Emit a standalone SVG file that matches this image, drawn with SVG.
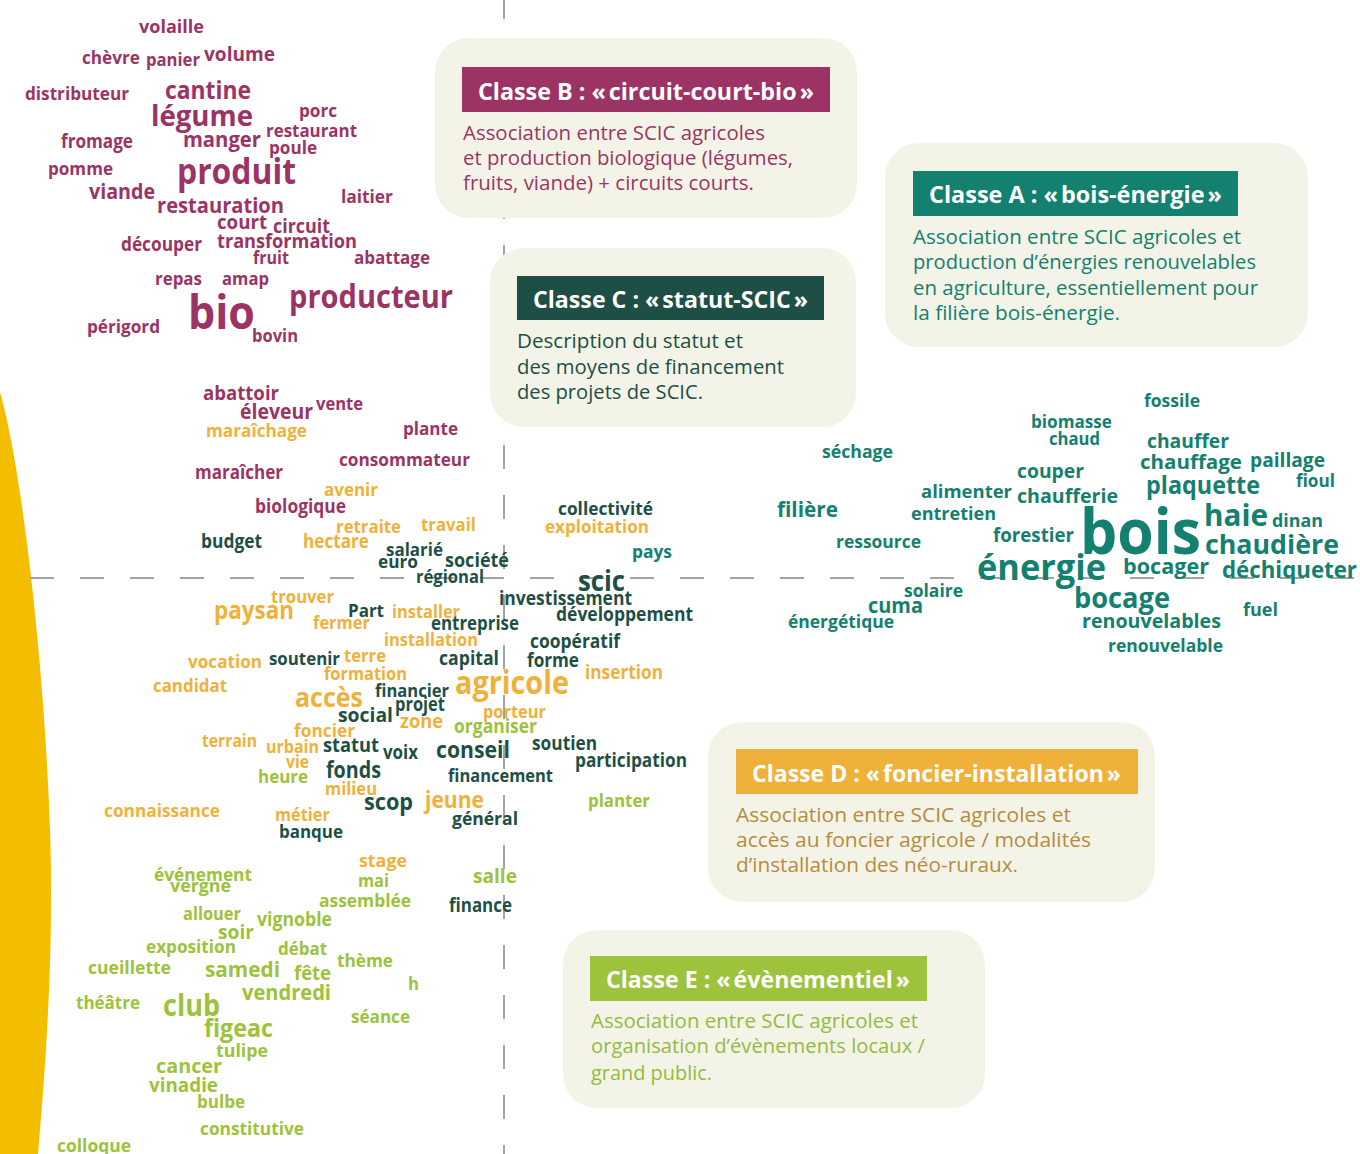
<svg xmlns="http://www.w3.org/2000/svg" width="1360" height="1154" viewBox="0 0 1360 1154">
<style>
text{font-family:"Open Sans","Noto Sans","DejaVu Sans",sans-serif}
.w{font-weight:700}
.p{fill:#9b3465}.o{fill:#f0b13b}.d{fill:#1d4f46}.l{fill:#9dc23c}.t{fill:#14806f}
.box{fill:#f3f4e7}
.hd{font-weight:700;font-size:23px;fill:#ffffff}
.bd{font-weight:400;font-size:20px}
.axis{stroke:#a3a3a3;stroke-width:2;fill:none;stroke-dasharray:24 26}
</style>
<rect width="1360" height="1154" fill="#ffffff"/>
<path d="M0,392 C22,470 44,660 50,830 C54,950 46,1060 38,1154 L0,1154 Z" fill="#f4be00"/>
<g id="connectors">
<line class="axis" x1="504" y1="-5" x2="504" y2="1154"/>
<line class="axis" x1="30" y1="578" x2="1360" y2="578"/>
</g>
<g id="words-B" class="w p">
<text x="139" y="33" font-size="18" textLength="65" lengthAdjust="spacingAndGlyphs">volaille</text>
<text x="82" y="64" font-size="18" textLength="58" lengthAdjust="spacingAndGlyphs">chèvre</text>
<text x="146" y="66" font-size="18" textLength="54" lengthAdjust="spacingAndGlyphs">panier</text>
<text x="204" y="61" font-size="20" textLength="71" lengthAdjust="spacingAndGlyphs">volume</text>
<text x="25" y="100" font-size="18" textLength="104" lengthAdjust="spacingAndGlyphs">distributeur</text>
<text x="165" y="99" font-size="25" textLength="86" lengthAdjust="spacingAndGlyphs">cantine</text>
<text x="151" y="126" font-size="29" textLength="102" lengthAdjust="spacingAndGlyphs">légume</text>
<text x="299" y="117" font-size="18" textLength="38" lengthAdjust="spacingAndGlyphs">porc</text>
<text x="266" y="137" font-size="18" textLength="91" lengthAdjust="spacingAndGlyphs">restaurant</text>
<text x="183" y="147" font-size="22" textLength="78" lengthAdjust="spacingAndGlyphs">manger</text>
<text x="269" y="154" font-size="18" textLength="48" lengthAdjust="spacingAndGlyphs">poule</text>
<text x="61" y="148" font-size="19" textLength="72" lengthAdjust="spacingAndGlyphs">fromage</text>
<text x="48" y="175" font-size="18" textLength="65" lengthAdjust="spacingAndGlyphs">pomme</text>
<text x="177" y="184" font-size="35" textLength="119" lengthAdjust="spacingAndGlyphs">produit</text>
<text x="89" y="199" font-size="21" textLength="66" lengthAdjust="spacingAndGlyphs">viande</text>
<text x="341" y="203" font-size="18" textLength="52" lengthAdjust="spacingAndGlyphs">laitier</text>
<text x="157" y="213" font-size="22" textLength="127" lengthAdjust="spacingAndGlyphs">restauration</text>
<text x="217" y="229" font-size="20" textLength="50" lengthAdjust="spacingAndGlyphs">court</text>
<text x="273" y="233" font-size="19" textLength="57" lengthAdjust="spacingAndGlyphs">circuit</text>
<text x="121" y="251" font-size="19" textLength="81" lengthAdjust="spacingAndGlyphs">découper</text>
<text x="217" y="248" font-size="20" textLength="140" lengthAdjust="spacingAndGlyphs">transformation</text>
<text x="253" y="264" font-size="17" textLength="36" lengthAdjust="spacingAndGlyphs">fruit</text>
<text x="354" y="264" font-size="18" textLength="76" lengthAdjust="spacingAndGlyphs">abattage</text>
<text x="155" y="285" font-size="18" textLength="47" lengthAdjust="spacingAndGlyphs">repas</text>
<text x="222" y="285" font-size="18" textLength="47" lengthAdjust="spacingAndGlyphs">amap</text>
<text x="188" y="329" font-size="47" textLength="67" lengthAdjust="spacingAndGlyphs">bio</text>
<text x="289" y="308" font-size="33" textLength="164" lengthAdjust="spacingAndGlyphs">producteur</text>
<text x="87" y="333" font-size="18" textLength="73" lengthAdjust="spacingAndGlyphs">périgord</text>
<text x="252" y="342" font-size="18" textLength="46" lengthAdjust="spacingAndGlyphs">bovin</text>
<text x="203" y="400" font-size="20" textLength="76" lengthAdjust="spacingAndGlyphs">abattoir</text>
<text x="240" y="419" font-size="21" textLength="73" lengthAdjust="spacingAndGlyphs">éleveur</text>
<text x="316" y="410" font-size="18" textLength="47" lengthAdjust="spacingAndGlyphs">vente</text>
<text x="403" y="435" font-size="18" textLength="55" lengthAdjust="spacingAndGlyphs">plante</text>
<text x="339" y="466" font-size="18" textLength="131" lengthAdjust="spacingAndGlyphs">consommateur</text>
<text x="195" y="479" font-size="19" textLength="88" lengthAdjust="spacingAndGlyphs">maraîcher</text>
<text x="255" y="513" font-size="19" textLength="91" lengthAdjust="spacingAndGlyphs">biologique</text>
</g>
<g id="words-D" class="w o">
<text x="206" y="437" font-size="18" textLength="101" lengthAdjust="spacingAndGlyphs">maraîchage</text>
<text x="324" y="496" font-size="18" textLength="54" lengthAdjust="spacingAndGlyphs">avenir</text>
<text x="336" y="533" font-size="18" textLength="65" lengthAdjust="spacingAndGlyphs">retraite</text>
<text x="421" y="531" font-size="18" textLength="55" lengthAdjust="spacingAndGlyphs">travail</text>
<text x="303" y="548" font-size="19" textLength="66" lengthAdjust="spacingAndGlyphs">hectare</text>
<text x="545" y="533" font-size="18" textLength="104" lengthAdjust="spacingAndGlyphs">exploitation</text>
<text x="271" y="603" font-size="18" textLength="63" lengthAdjust="spacingAndGlyphs">trouver</text>
<text x="214" y="619" font-size="25" textLength="80" lengthAdjust="spacingAndGlyphs">paysan</text>
<text x="392" y="618" font-size="18" textLength="68" lengthAdjust="spacingAndGlyphs">installer</text>
<text x="313" y="629" font-size="18" textLength="57" lengthAdjust="spacingAndGlyphs">fermer</text>
<text x="384" y="646" font-size="18" textLength="94" lengthAdjust="spacingAndGlyphs">installation</text>
<text x="188" y="668" font-size="18" textLength="74" lengthAdjust="spacingAndGlyphs">vocation</text>
<text x="344" y="662" font-size="18" textLength="42" lengthAdjust="spacingAndGlyphs">terre</text>
<text x="324" y="680" font-size="18" textLength="83" lengthAdjust="spacingAndGlyphs">formation</text>
<text x="585" y="679" font-size="19" textLength="78" lengthAdjust="spacingAndGlyphs">insertion</text>
<text x="153" y="692" font-size="18" textLength="74" lengthAdjust="spacingAndGlyphs">candidat</text>
<text x="455" y="694" font-size="33" textLength="114" lengthAdjust="spacingAndGlyphs">agricole</text>
<text x="295" y="707" font-size="26" textLength="68" lengthAdjust="spacingAndGlyphs">accès</text>
<text x="483" y="718" font-size="18" textLength="63" lengthAdjust="spacingAndGlyphs">porteur</text>
<text x="400" y="728" font-size="20" textLength="43" lengthAdjust="spacingAndGlyphs">zone</text>
<text x="294" y="737" font-size="18" textLength="61" lengthAdjust="spacingAndGlyphs">foncier</text>
<text x="202" y="747" font-size="18" textLength="55" lengthAdjust="spacingAndGlyphs">terrain</text>
<text x="266" y="753" font-size="18" textLength="53" lengthAdjust="spacingAndGlyphs">urbain</text>
<text x="286" y="768" font-size="18" textLength="23" lengthAdjust="spacingAndGlyphs">vie</text>
<text x="325" y="795" font-size="17" textLength="52" lengthAdjust="spacingAndGlyphs">milieu</text>
<text x="425" y="808" font-size="24" textLength="59" lengthAdjust="spacingAndGlyphs">jeune</text>
<text x="104" y="817" font-size="18" textLength="116" lengthAdjust="spacingAndGlyphs">connaissance</text>
<text x="275" y="821" font-size="18" textLength="55" lengthAdjust="spacingAndGlyphs">métier</text>
<text x="359" y="867" font-size="18" textLength="48" lengthAdjust="spacingAndGlyphs">stage</text>
</g>
<g id="words-C" class="w d">
<text x="201" y="548" font-size="19" textLength="61" lengthAdjust="spacingAndGlyphs">budget</text>
<text x="386" y="556" font-size="18" textLength="57" lengthAdjust="spacingAndGlyphs">salarié</text>
<text x="378" y="568" font-size="18" textLength="40" lengthAdjust="spacingAndGlyphs">euro</text>
<text x="445" y="567" font-size="19" textLength="64" lengthAdjust="spacingAndGlyphs">société</text>
<text x="416" y="583" font-size="18" textLength="68" lengthAdjust="spacingAndGlyphs">régional</text>
<text x="558" y="515" font-size="18" textLength="95" lengthAdjust="spacingAndGlyphs">collectivité</text>
<text x="578" y="591" font-size="29" textLength="47" lengthAdjust="spacingAndGlyphs">scic</text>
<text x="499" y="605" font-size="19" textLength="133" lengthAdjust="spacingAndGlyphs">investissement</text>
<text x="348" y="617" font-size="18" textLength="36" lengthAdjust="spacingAndGlyphs">Part</text>
<text x="431" y="630" font-size="19" textLength="88" lengthAdjust="spacingAndGlyphs">entreprise</text>
<text x="556" y="621" font-size="19" textLength="137" lengthAdjust="spacingAndGlyphs">développement</text>
<text x="530" y="648" font-size="19" textLength="90" lengthAdjust="spacingAndGlyphs">coopératif</text>
<text x="269" y="665" font-size="18" textLength="71" lengthAdjust="spacingAndGlyphs">soutenir</text>
<text x="439" y="665" font-size="19" textLength="60" lengthAdjust="spacingAndGlyphs">capital</text>
<text x="527" y="667" font-size="19" textLength="52" lengthAdjust="spacingAndGlyphs">forme</text>
<text x="375" y="697" font-size="18" textLength="74" lengthAdjust="spacingAndGlyphs">financier</text>
<text x="395" y="711" font-size="19" textLength="50" lengthAdjust="spacingAndGlyphs">projet</text>
<text x="338" y="722" font-size="20" textLength="55" lengthAdjust="spacingAndGlyphs">social</text>
<text x="323" y="752" font-size="20" textLength="56" lengthAdjust="spacingAndGlyphs">statut</text>
<text x="383" y="759" font-size="19" textLength="35" lengthAdjust="spacingAndGlyphs">voix</text>
<text x="436" y="758" font-size="24" textLength="74" lengthAdjust="spacingAndGlyphs">conseil</text>
<text x="532" y="750" font-size="19" textLength="65" lengthAdjust="spacingAndGlyphs">soutien</text>
<text x="575" y="767" font-size="19" textLength="112" lengthAdjust="spacingAndGlyphs">participation</text>
<text x="326" y="778" font-size="24" textLength="55" lengthAdjust="spacingAndGlyphs">fonds</text>
<text x="448" y="782" font-size="18" textLength="105" lengthAdjust="spacingAndGlyphs">financement</text>
<text x="364" y="810" font-size="24" textLength="49" lengthAdjust="spacingAndGlyphs">scop</text>
<text x="452" y="825" font-size="18" textLength="66" lengthAdjust="spacingAndGlyphs">général</text>
<text x="279" y="838" font-size="18" textLength="64" lengthAdjust="spacingAndGlyphs">banque</text>
<text x="449" y="912" font-size="19" textLength="63" lengthAdjust="spacingAndGlyphs">finance</text>
</g>
<g id="words-E" class="w l">
<text x="454" y="733" font-size="19" textLength="83" lengthAdjust="spacingAndGlyphs">organiser</text>
<text x="258" y="783" font-size="18" textLength="50" lengthAdjust="spacingAndGlyphs">heure</text>
<text x="588" y="807" font-size="18" textLength="62" lengthAdjust="spacingAndGlyphs">planter</text>
<text x="154" y="881" font-size="18" textLength="98" lengthAdjust="spacingAndGlyphs">événement</text>
<text x="170" y="892" font-size="18" textLength="61" lengthAdjust="spacingAndGlyphs">vergne</text>
<text x="358" y="887" font-size="18" textLength="31" lengthAdjust="spacingAndGlyphs">mai</text>
<text x="473" y="883" font-size="20" textLength="44" lengthAdjust="spacingAndGlyphs">salle</text>
<text x="319" y="907" font-size="18" textLength="92" lengthAdjust="spacingAndGlyphs">assemblée</text>
<text x="183" y="920" font-size="18" textLength="58" lengthAdjust="spacingAndGlyphs">allouer</text>
<text x="257" y="926" font-size="19" textLength="75" lengthAdjust="spacingAndGlyphs">vignoble</text>
<text x="218" y="939" font-size="20" textLength="36" lengthAdjust="spacingAndGlyphs">soir</text>
<text x="146" y="953" font-size="18" textLength="90" lengthAdjust="spacingAndGlyphs">exposition</text>
<text x="278" y="955" font-size="18" textLength="49" lengthAdjust="spacingAndGlyphs">débat</text>
<text x="337" y="967" font-size="18" textLength="56" lengthAdjust="spacingAndGlyphs">thème</text>
<text x="88" y="974" font-size="18" textLength="83" lengthAdjust="spacingAndGlyphs">cueillette</text>
<text x="205" y="977" font-size="22" textLength="75" lengthAdjust="spacingAndGlyphs">samedi</text>
<text x="294" y="980" font-size="20" textLength="37" lengthAdjust="spacingAndGlyphs">fête</text>
<text x="408" y="990" font-size="18" textLength="11" lengthAdjust="spacingAndGlyphs">h</text>
<text x="242" y="1000" font-size="22" textLength="89" lengthAdjust="spacingAndGlyphs">vendredi</text>
<text x="76" y="1009" font-size="18" textLength="64" lengthAdjust="spacingAndGlyphs">théâtre</text>
<text x="163" y="1016" font-size="31" textLength="57" lengthAdjust="spacingAndGlyphs">club</text>
<text x="351" y="1023" font-size="18" textLength="59" lengthAdjust="spacingAndGlyphs">séance</text>
<text x="204" y="1037" font-size="25" textLength="69" lengthAdjust="spacingAndGlyphs">figeac</text>
<text x="216" y="1057" font-size="18" textLength="52" lengthAdjust="spacingAndGlyphs">tulipe</text>
<text x="156" y="1073" font-size="20" textLength="66" lengthAdjust="spacingAndGlyphs">cancer</text>
<text x="149" y="1092" font-size="20" textLength="69" lengthAdjust="spacingAndGlyphs">vinadie</text>
<text x="197" y="1108" font-size="18" textLength="48" lengthAdjust="spacingAndGlyphs">bulbe</text>
<text x="200" y="1135" font-size="18" textLength="104" lengthAdjust="spacingAndGlyphs">constitutive</text>
<text x="57" y="1152" font-size="18" textLength="74" lengthAdjust="spacingAndGlyphs">colloque</text>
</g>
<g id="words-A" class="w t">
<text x="632" y="558" font-size="18" textLength="40" lengthAdjust="spacingAndGlyphs">pays</text>
<text x="1144" y="407" font-size="18" textLength="56" lengthAdjust="spacingAndGlyphs">fossile</text>
<text x="1031" y="428" font-size="18" textLength="81" lengthAdjust="spacingAndGlyphs">biomasse</text>
<text x="1049" y="445" font-size="18" textLength="51" lengthAdjust="spacingAndGlyphs">chaud</text>
<text x="822" y="458" font-size="18" textLength="71" lengthAdjust="spacingAndGlyphs">séchage</text>
<text x="1147" y="448" font-size="20" textLength="82" lengthAdjust="spacingAndGlyphs">chauffer</text>
<text x="1140" y="469" font-size="20" textLength="102" lengthAdjust="spacingAndGlyphs">chauffage</text>
<text x="1250" y="467" font-size="20" textLength="75" lengthAdjust="spacingAndGlyphs">paillage</text>
<text x="1017" y="478" font-size="20" textLength="67" lengthAdjust="spacingAndGlyphs">couper</text>
<text x="1296" y="487" font-size="18" textLength="39" lengthAdjust="spacingAndGlyphs">fioul</text>
<text x="1146" y="494" font-size="25" textLength="114" lengthAdjust="spacingAndGlyphs">plaquette</text>
<text x="921" y="498" font-size="18" textLength="91" lengthAdjust="spacingAndGlyphs">alimenter</text>
<text x="1017" y="503" font-size="20" textLength="101" lengthAdjust="spacingAndGlyphs">chaufferie</text>
<text x="777" y="517" font-size="22" textLength="61" lengthAdjust="spacingAndGlyphs">filière</text>
<text x="911" y="520" font-size="18" textLength="85" lengthAdjust="spacingAndGlyphs">entretien</text>
<text x="1204" y="526" font-size="31" textLength="64" lengthAdjust="spacingAndGlyphs">haie</text>
<text x="1272" y="527" font-size="18" textLength="51" lengthAdjust="spacingAndGlyphs">dinan</text>
<text x="993" y="542" font-size="20" textLength="81" lengthAdjust="spacingAndGlyphs">forestier</text>
<text x="1080" y="554" font-size="62" textLength="121" lengthAdjust="spacingAndGlyphs">bois</text>
<text x="1205" y="554" font-size="27" textLength="134" lengthAdjust="spacingAndGlyphs">chaudière</text>
<text x="836" y="548" font-size="18" textLength="85" lengthAdjust="spacingAndGlyphs">ressource</text>
<text x="977" y="580" font-size="36" textLength="129" lengthAdjust="spacingAndGlyphs">énergie</text>
<text x="1123" y="574" font-size="21" textLength="86" lengthAdjust="spacingAndGlyphs">bocager</text>
<text x="1222" y="578" font-size="24" textLength="135" lengthAdjust="spacingAndGlyphs">déchiqueter</text>
<text x="904" y="597" font-size="18" textLength="59" lengthAdjust="spacingAndGlyphs">solaire</text>
<text x="868" y="613" font-size="22" textLength="55" lengthAdjust="spacingAndGlyphs">cuma</text>
<text x="1074" y="608" font-size="28" textLength="96" lengthAdjust="spacingAndGlyphs">bocage</text>
<text x="1243" y="616" font-size="18" textLength="35" lengthAdjust="spacingAndGlyphs">fuel</text>
<text x="788" y="628" font-size="18" textLength="106" lengthAdjust="spacingAndGlyphs">énergétique</text>
<text x="1082" y="628" font-size="20" textLength="139" lengthAdjust="spacingAndGlyphs">renouvelables</text>
<text x="1108" y="652" font-size="18" textLength="115" lengthAdjust="spacingAndGlyphs">renouvelable</text>
</g>
<g id="classe-B">
<rect class="box" x="435" y="38" width="422" height="180" rx="34"/>
<rect x="462" y="67" width="368" height="45" fill="#9b3465"/>
<text class="hd" x="478" y="100" textLength="336" lengthAdjust="spacingAndGlyphs">Classe B : «&#8239;circuit-court-bio&#8239;»</text>
<text class="bd p" x="463" y="140" textLength="302" lengthAdjust="spacingAndGlyphs">Association entre SCIC agricoles</text>
<text class="bd p" x="463" y="165" textLength="330" lengthAdjust="spacingAndGlyphs">et production biologique (légumes,</text>
<text class="bd p" x="463" y="190" textLength="291" lengthAdjust="spacingAndGlyphs">fruits, viande) + circuits courts.</text>
</g>
<g id="classe-A">
<rect class="box" x="885" y="143" width="423" height="204" rx="34"/>
<rect x="913" y="171" width="325" height="45" fill="#14806f"/>
<text class="hd" x="929" y="203" textLength="293" lengthAdjust="spacingAndGlyphs">Classe A : «&#8239;bois-énergie&#8239;»</text>
<text class="bd t" x="913" y="244" textLength="328" lengthAdjust="spacingAndGlyphs">Association entre SCIC agricoles et</text>
<text class="bd t" x="913" y="269" textLength="343" lengthAdjust="spacingAndGlyphs">production d’énergies renouvelables</text>
<text class="bd t" x="913" y="295" textLength="345" lengthAdjust="spacingAndGlyphs">en agriculture, essentiellement pour</text>
<text class="bd t" x="913" y="320" textLength="207" lengthAdjust="spacingAndGlyphs">la filière bois-énergie.</text>
</g>
<g id="classe-C">
<rect class="box" x="490" y="248" width="366" height="179" rx="34"/>
<rect x="517" y="276" width="307" height="44" fill="#1d4f46"/>
<text class="hd" x="533" y="308" textLength="275" lengthAdjust="spacingAndGlyphs">Classe C : «&#8239;statut-SCIC&#8239;»</text>
<text class="bd d" x="517" y="348" textLength="226" lengthAdjust="spacingAndGlyphs">Description du statut et</text>
<text class="bd d" x="517" y="374" textLength="267" lengthAdjust="spacingAndGlyphs">des moyens de financement</text>
<text class="bd d" x="517" y="399" textLength="186" lengthAdjust="spacingAndGlyphs">des projets de SCIC.</text>
</g>
<g id="classe-D">
<rect class="box" x="708" y="722" width="447" height="180" rx="34"/>
<rect x="736" y="749" width="402" height="45" fill="#f0b13b"/>
<text class="hd" x="752" y="782" textLength="369" lengthAdjust="spacingAndGlyphs">Classe D : «&#8239;foncier-installation&#8239;»</text>
<text class="bd" fill="#b68b3e" x="736" y="822" textLength="335" lengthAdjust="spacingAndGlyphs">Association entre SCIC agricoles et</text>
<text class="bd" fill="#b68b3e" x="736" y="847" textLength="355" lengthAdjust="spacingAndGlyphs">accès au foncier agricole / modalités</text>
<text class="bd" fill="#b68b3e" x="736" y="872" textLength="282" lengthAdjust="spacingAndGlyphs">d’installation des néo-ruraux.</text>
</g>
<g id="classe-E">
<rect class="box" x="563" y="930" width="422" height="178" rx="34"/>
<rect x="590" y="956" width="337" height="45" fill="#9dc23c"/>
<text class="hd" x="606" y="988" textLength="304" lengthAdjust="spacingAndGlyphs">Classe E : «&#8239;évènementiel&#8239;»</text>
<text class="bd" fill="#93bb3f" x="591" y="1028" textLength="327" lengthAdjust="spacingAndGlyphs">Association entre SCIC agricoles et</text>
<text class="bd" fill="#93bb3f" x="591" y="1053" textLength="334" lengthAdjust="spacingAndGlyphs">organisation d’évènements locaux /</text>
<text class="bd" fill="#93bb3f" x="591" y="1080" textLength="121" lengthAdjust="spacingAndGlyphs">grand public.</text>
</g>
</svg>
